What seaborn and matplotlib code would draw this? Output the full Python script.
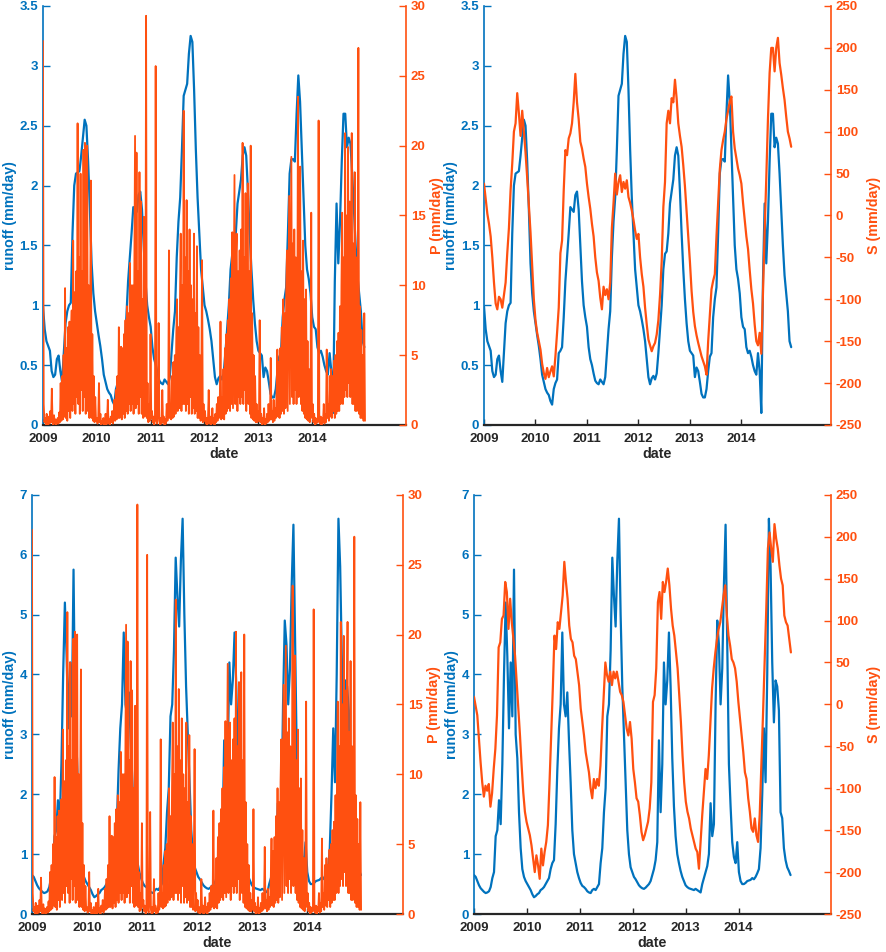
import numpy as np
import pandas as pd
import matplotlib
matplotlib.use("Agg")
import matplotlib.pyplot as plt
import seaborn as sns

# daily-ish precipitation P (mm/day), one value every 5 days, per year
p_2009 = [27.5, 1.5, 0.2, 0.5, 0.0, 0.8, 0.2, 0.0, 0.6, 0.1, 1.0, 0.2,
          2.6, 0.3, 0.0, 0.7, 0.1, 0.4, 0.0, 0.2, 0.5, 0.1, 0.9, 0.2,
          3.0, 0.3, 3.5, 0.4, 5.0, 0.6, 9.8, 0.5, 5.5, 0.3, 7.0, 1.0,
          7.4, 0.5, 6.5, 8.2, 1.0, 13.2, 1.5, 9.5, 0.8, 11.0, 2.0, 21.6,
          1.5, 12.0, 0.8, 18.0, 2.5, 11.0, 1.0, 19.7, 2.0, 20.2, 0.8, 13.0,
          20.0, 1.0, 10.0, 0.5, 8.0, 17.5, 0.5, 6.5, 0.3, 3.5, 0.2, 2.0, 0.3]
p_2010 = [0.5, 0.1, 0.4, 3.0, 0.2, 0.8, 0.0, 0.3, 0.1, 0.5, 0.0, 0.2,
          0.8, 0.0, 0.3, 1.8, 0.1, 0.4, 0.0, 0.6, 0.2, 1.0, 0.1, 0.5,
          1.8, 0.3, 2.5, 0.4, 3.5, 0.5, 7.0, 0.5, 4.5, 5.6, 0.4, 5.5,
          0.8, 6.5, 0.5, 7.5, 1.0, 8.5, 0.8, 8.0, 1.5, 11.6, 1.0, 10.0,
          1.5, 10.0, 0.8, 11.0, 20.7, 1.2, 19.5, 1.5, 11.0, 0.8, 18.1, 2.0,
          16.0, 0.8, 9.0, 0.5, 14.9, 0.6, 5.0, 29.3, 0.5, 3.0, 0.2, 1.5, 0.3]
p_2011 = [6.5, 0.5, 1.0, 0.2, 0.6, 0.0, 0.4, 25.7, 0.3, 0.1, 0.8, 7.3,
          0.3, 0.0, 0.5, 0.1, 2.5, 0.2, 0.6, 0.0, 0.4, 0.1, 1.5, 0.3,
          0.8, 12.5, 0.5, 1.5, 0.4, 3.5, 0.5, 4.5, 0.6, 5.0, 0.8, 6.5,
          9.0, 1.0, 7.0, 1.2, 9.0, 13.7, 1.0, 10.0, 1.5, 22.5, 1.5, 12.0,
          1.0, 16.1, 1.5, 11.0, 0.8, 14.0, 2.0, 10.0, 0.8, 9.0, 1.2, 13.7,
          0.8, 8.0, 1.0, 12.8, 0.5, 7.0, 0.5, 5.0, 0.3, 3.5, 11.8, 0.2, 1.5]
p_2012 = [0.3, 1.0, 0.1, 0.5, 0.0, 0.4, 2.5, 0.1, 0.6, 0.0, 0.3, 1.2,
          0.1, 0.5, 0.0, 0.8, 0.2, 1.5, 0.3, 2.0, 0.5, 1.2, 7.4, 0.4,
          2.0, 0.5, 4.0, 0.4, 5.5, 0.8, 6.5, 1.0, 7.5, 1.2, 9.0, 1.0,
          10.5, 1.5, 13.8, 1.2, 10.0, 17.9, 1.5, 12.0, 13.7, 1.0, 11.0, 2.0,
          12.5, 1.5, 14.0, 2.0, 20.2, 1.5, 12.0, 2.5, 16.6, 1.0, 13.0, 17.3,
          1.5, 11.0, 0.8, 20.0, 0.5, 8.0, 0.4, 5.0, 0.3, 3.5, 0.2, 1.5, 0.2]
p_2013 = [1.0, 0.3, 7.5, 0.2, 0.8, 0.0, 0.5, 0.1, 1.2, 0.0, 0.4, 0.1,
          0.8, 0.2, 1.5, 0.3, 0.6, 4.8, 0.4, 1.0, 0.2, 1.8, 0.3, 1.2,
          0.5, 2.5, 5.4, 0.6, 4.5, 0.5, 5.5, 0.8, 7.0, 1.0, 9.0, 0.8,
          8.0, 1.2, 9.5, 12.5, 1.0, 9.0, 16.4, 1.5, 11.0, 19.2, 2.0, 13.0,
          1.5, 14.0, 2.5, 12.0, 1.5, 6.0, 23.5, 2.0, 12.0, 18.5, 1.5, 11.0,
          1.0, 13.2, 0.8, 9.0, 0.5, 9.7, 0.4, 6.0, 0.3, 4.0, 0.2, 2.0, 15.2]
p_2014 = [0.5, 1.5, 0.2, 0.8, 0.0, 0.5, 0.1, 0.4, 0.2, 21.8, 0.3, 0.1,
          0.6, 0.0, 0.5, 0.2, 1.5, 0.1, 0.8, 0.2, 5.4, 0.5, 1.5, 0.3,
          3.5, 0.6, 4.0, 0.5, 3.5, 1.0, 4.6, 0.5, 5.0, 0.8, 6.0, 1.0,
          6.6, 1.0, 8.5, 1.5, 10.0, 15.2, 1.5, 12.0, 2.0, 20.9, 2.5, 15.0,
          2.0, 19.9, 3.0, 16.0, 2.0, 14.0, 20.9, 1.5, 13.0, 1.5, 18.1, 1.0,
          12.0, 1.0, 9.0, 27.0, 0.8, 8.5, 0.5, 6.8, 0.5, 5.0, 0.3, 8.0, 0.3]

# smoothed runoff (top row), sampled every ~11.8 days from 2009-01-01
runoff_smooth = [
    0.99, 0.8, 0.7, 0.66, 0.62, 0.45, 0.4, 0.42, 0.55, 0.58, 0.45, 0.36,
    0.6, 0.85, 0.95, 1.0, 1.02, 1.6, 2.0, 2.1, 2.11, 2.12, 2.25, 2.4,
    2.55, 2.5, 2.2, 1.8, 1.35, 1.1, 0.95, 0.85, 0.75, 0.66, 0.55, 0.42,
    0.36, 0.3, 0.27, 0.25, 0.2, 0.17, 0.3, 0.35, 0.38, 0.6, 0.62, 0.65,
    0.9, 1.2, 1.4, 1.6, 1.82, 1.8, 1.78, 1.92, 1.95, 1.8, 1.5, 1.2,
    1.0, 0.9, 0.82, 0.65, 0.55, 0.5, 0.43, 0.37, 0.35, 0.34, 0.38, 0.36,
    0.34, 0.4, 0.6, 0.8, 0.95, 1.4, 1.7, 1.9, 2.3, 2.75, 2.8, 2.85,
    3.1, 3.25, 3.2, 2.8, 2.3, 1.9, 1.6, 1.3, 1.15, 1.0, 0.95, 0.88,
    0.8, 0.7, 0.55, 0.4, 0.34, 0.39, 0.41, 0.38, 0.43, 0.6, 0.8, 1.0,
    1.3, 1.43, 1.45, 1.6, 1.85, 1.95, 2.05, 2.25, 2.32, 2.25, 1.95, 1.6,
    1.3, 1.05, 0.85, 0.7, 0.62, 0.6, 0.58, 0.4, 0.48, 0.45, 0.36, 0.26,
    0.23, 0.23, 0.3, 0.45, 0.57, 0.6, 0.9, 1.05, 1.15, 1.6, 2.1, 2.22,
    2.22, 2.2, 2.6, 2.92, 2.7, 2.3, 1.9, 1.5, 1.3, 1.22, 1.1, 0.9,
    0.82, 0.8, 0.65, 0.6, 0.62, 0.57, 0.5, 0.45, 0.42, 0.6, 0.45, 0.1,
    1.2, 1.85, 1.35, 1.7, 2.2, 2.6, 2.6, 2.32, 2.4, 2.35, 2.1, 1.8,
    1.5, 1.25, 1.1, 0.95, 0.7, 0.65]

# storage S (top right), same sampling as runoff_smooth
s_top = [
    38, 20, 2, -10, -25, -50, -80, -105, -112, -97, -100, -110,
    -95, -80, -45, -15, 30, 62, 100, 110, 146, 122, 95, 125,
    100, 75, 45, 12, -20, -60, -100, -125, -140, -150, -160, -177,
    -188, -195, -182, -193, -186, -180, -192, -168, -140, -110, -45, -30,
    30, 78, 72, 92, 98, 110, 135, 169, 135, 115, 88, 80,
    68, 58, 38, 22, 8, -10, -25, -50, -68, -78, -98, -112,
    -85, -95, -88, -100, -80, -15, 15, 50, 25, 40, 48, 28,
    40, 32, 42, 22, 15, 6, -5, -18, -28, -22, -50, -70,
    -85, -110, -130, -148, -155, -162, -156, -152, -142, -125, -95, -55,
    10, 40, 110, 125, 110, 140, 135, 162, 140, 110, 95, 82,
    60, 35, 5, -25, -55, -90, -115, -132, -143, -152, -160, -168,
    -174, -180, -190, -150, -120, -88, -78, -70, -25, 15, 55, 78,
    90, 100, 115, 125, 136, 142, 100, 80, 68, 56, 48, 38,
    15, -5, -25, -40, -65, -88, -105, -130, -150, -155, -140, -165,
    -90, -20, 45, 115, 170, 200, 200, 172, 200, 212, 182, 168,
    152, 138, 118, 100, 92, 82]

# raw runoff (bottom row), sampled every ~11.5 days
runoff_raw = [
    0.65, 0.62, 0.55, 0.48, 0.43, 0.4, 0.37, 0.35, 0.36, 0.38, 0.45, 0.6,
    0.7, 1.3, 1.4, 1.9, 1.5, 2.5, 4.0, 5.2, 4.3, 3.1, 4.2, 3.3,
    5.75, 3.0, 2.6, 1.7, 1.1, 0.75, 0.62, 0.55, 0.5, 0.45, 0.4, 0.33,
    0.28, 0.3, 0.33, 0.35, 0.4, 0.42, 0.45, 0.5, 0.55, 0.6, 0.75, 0.85,
    0.9, 1.5, 2.4, 3.1, 3.5, 4.7, 3.5, 3.3, 3.7, 2.9, 2.2, 1.4,
    1.0, 0.85, 0.7, 0.6, 0.52, 0.47, 0.45, 0.42, 0.38, 0.36, 0.35, 0.4,
    0.42, 0.4, 0.45, 0.5, 0.85, 1.1, 1.7, 2.1, 3.3, 3.5, 4.4, 5.95,
    5.3, 4.8, 5.9, 6.6, 5.0, 3.8, 3.0, 2.2, 1.4, 1.0, 0.78, 0.7,
    0.62, 0.58, 0.53, 0.48, 0.45, 0.43, 0.42, 0.44, 0.47, 0.5, 0.55, 0.65,
    0.75, 0.9, 1.2, 2.9, 1.7, 2.5, 4.2, 3.5, 3.9, 4.7, 3.8, 2.6,
    1.8, 1.3, 1.0, 0.85, 0.72, 0.62, 0.55, 0.48, 0.45, 0.43, 0.42, 0.41,
    0.4, 0.42, 0.4, 0.38, 0.36, 0.5, 0.6, 0.7, 0.8, 1.0, 1.85, 1.3,
    1.5, 3.5, 4.9, 4.5, 3.5, 4.1, 5.5, 6.5, 4.5, 2.5, 1.8, 1.2,
    0.95, 0.85, 1.2, 0.7, 0.55, 0.5, 0.5, 0.52, 0.55, 0.56, 0.57, 0.6,
    0.58, 0.62, 0.68, 0.75, 1.1, 2.0, 3.1, 2.2, 4.0, 6.6, 5.8, 4.2,
    3.2, 3.9, 3.8, 3.4, 1.7, 1.6, 1.1, 0.9, 0.78, 0.72, 0.65]

# storage S (bottom right), sampled every ~11.3 days
s_bot = [
    9, -2, -13, -41, -69, -93, -110, -97, -103, -95, -122, -106,
    -77, -53, -13, 68, 74, 102, 106, 146, 134, 90, 126, 98,
    78, 58, 27, -5, -37, -73, -105, -128, -140, -148, -156, -168,
    -184, -200, -180, -192, -208, -172, -192, -176, -164, -144, -93, -37,
    19, 82, 66, 98, 90, 110, 130, 170, 146, 126, 94, 78,
    74, 58, 54, 39, 23, -5, -21, -37, -57, -69, -81, -100,
    -112, -89, -100, -89, -97, -73, -29, 11, 50, 35, 27, 39,
    23, 39, 31, 39, 27, 15, 11, 3, -13, -29, -37, -21,
    -41, -77, -93, -112, -116, -132, -152, -162, -156, -148, -140, -124,
    -93, 3, 11, 43, 122, 134, 102, 146, 134, 146, 162, 142,
    114, 94, 82, 62, 43, 11, -21, -61, -93, -116, -128, -136,
    -148, -156, -164, -172, -176, -196, -164, -132, -105, -77, -89, -61,
    -21, 19, 43, 62, 78, 90, 98, 114, 130, 142, 106, 82,
    70, 54, 50, 43, 27, 3, -17, -37, -57, -81, -89, -112,
    -128, -148, -152, -136, -156, -164, -132, -73, -13, 50, 114, 186,
    205, 186, 170, 215, 198, 186, 166, 150, 142, 106, 98, 94,
    78, 62]

years = [2009, 2010, 2011, 2012, 2013, 2014]
p_years = [p_2009, p_2010, p_2011, p_2012, p_2013, p_2014]

BLUE = "#0072BD"
ORANGE = "#FF5010"
DARK = "#262626"

# build time axes
p_dates = pd.DatetimeIndex(np.concatenate([
    pd.date_range(f"{yr}-01-01", periods=len(p), freq="5D").values
    for yr, p in zip(years, p_years)]))
p_all = np.concatenate(p_years)
t_smooth = pd.date_range("2009-01-01", periods=len(runoff_smooth), freq="283h")
t_stop = pd.date_range("2009-01-01", periods=len(s_top), freq="283h")
t_raw = pd.date_range("2009-01-01", periods=len(runoff_raw), freq="276h")
t_sbot = pd.date_range("2009-01-01", periods=len(s_bot), freq="272h")

sns.set_theme(style="white")
plt.rcParams["font.family"] = ["Liberation Sans", "DejaVu Sans"]
plt.rcParams["font.weight"] = "bold"
plt.rcParams["axes.labelweight"] = "bold"

fig = plt.figure(figsize=(8.86, 9.52), dpi=100)


def panel(rect, tl, yl, ylim_l, yt_l, tr, yr_, ylim_r, yt_r, rlabel, rlw):
    ax = fig.add_axes(rect)
    sns.lineplot(x=tl, y=yl, ax=ax, color=BLUE, linewidth=1.6)
    ax2 = ax.twinx()
    sns.lineplot(x=tr, y=yr_, ax=ax2, color=ORANGE, linewidth=rlw)

    ax.set_xlim(pd.Timestamp("2009-01-01"), pd.Timestamp("2015-10-01"))
    ax.set_ylim(*ylim_l)
    ax2.set_ylim(*ylim_r)
    ax.set_xticks([pd.Timestamp(f"{y}-01-01") for y in years])
    ax.set_xticklabels([str(y) for y in years])
    ax.set_yticks(yt_l)
    ax.set_yticklabels([f"{v:g}" for v in yt_l])
    ax2.set_yticks(yt_r)
    ax2.set_yticklabels([f"{v:g}" for v in yt_r])

    for a in (ax, ax2):
        a.spines["top"].set_visible(False)
        a.grid(False)
    ax.spines["right"].set_visible(False)
    ax2.spines["left"].set_visible(False)
    ax2.spines["bottom"].set_visible(False)
    ax.spines["left"].set_color(BLUE)
    ax2.spines["right"].set_color(ORANGE)
    ax.spines["bottom"].set_color(DARK)
    ax.spines["left"].set_linewidth(1.2)
    ax2.spines["right"].set_linewidth(1.2)
    ax.spines["bottom"].set_linewidth(1.6)

    ax.tick_params(axis="y", direction="in", colors=BLUE, length=5, width=1,
                   labelsize=9.5, pad=3.5, left=True)
    ax.tick_params(axis="x", direction="in", colors=DARK, length=4, width=1,
                   labelsize=9.5, pad=5.5, bottom=True)
    ax2.tick_params(axis="y", direction="in", colors=ORANGE, length=5, width=1,
                    labelsize=9.5, pad=3.5, right=True)

    ax.set_xlabel("date", fontsize=10.3, color=DARK, labelpad=2)
    ax.set_ylabel("runoff (mm/day)", fontsize=10.3, color=BLUE, labelpad=2)
    ax2.set_ylabel(rlabel, fontsize=10.3, color=ORANGE, labelpad=3)
    return ax, ax2


rt_small = [0, 0.5, 1, 1.5, 2, 2.5, 3, 3.5]
rt_big = [0, 1, 2, 3, 4, 5, 6, 7]
pt = [0, 5, 10, 15, 20, 25, 30]
st = [-250, -200, -150, -100, -50, 0, 50, 100, 150, 200, 250]

panel([0.0485, 0.5536, 0.4097, 0.4401], t_smooth, runoff_smooth, (0, 3.5), rt_small,
      p_dates, p_all, (0, 30), pt, "P (mm/day)", 1.3)
panel([0.5463, 0.5536, 0.3916, 0.4401], t_smooth, runoff_smooth, (0, 3.5), rt_small,
      t_stop, s_top, (-250, 250), st, "S (mm/day)", 1.6)
panel([0.0361, 0.0399, 0.4187, 0.4404], t_raw, runoff_raw, (0, 7), rt_big,
      p_dates, p_all, (0, 30), pt, "P (mm/day)", 1.3)
panel([0.5350, 0.0399, 0.4029, 0.4404], t_raw, runoff_raw, (0, 7), rt_big,
      t_sbot, s_bot, (-250, 250), st, "S (mm/day)", 1.6)

fig.savefig("out.png", dpi=100)
